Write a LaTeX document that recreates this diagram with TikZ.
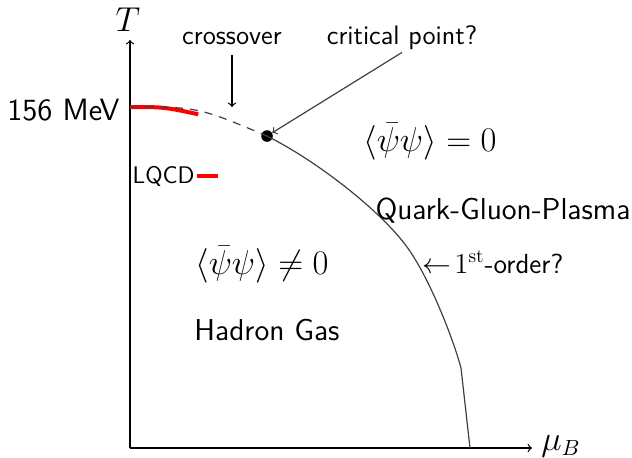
\documentclass[tikz,border=0pt]{standalone}
\usepackage{fontspec}
\begin{document}
\begin{tikzpicture}[x=0.5pt,y=-0.5pt,
  lbl/.style={font=\sffamily\fontsize{15.1}{18}\selectfont, inner sep=1pt},
  ann/.style={font=\sffamily\fontsize{13.4}{16}\selectfont, inner sep=1pt},
  mth/.style={font=\fontsize{16.2}{19}\selectfont, inner sep=1pt},
  axis/.style={->, line width=0.6pt, black},
  phase/.style={line width=0.6pt, black!75},
  lqcdline/.style={red, line width=2pt}]
\useasboundingbox (0,0) rectangle (632,457);
% axes
\coordinate (O) at (130,448);
\coordinate (Ttip) at (130,40);
\coordinate (Mtip) at (532,448);
\draw[axis] (O) -- (Ttip);
\draw[axis] (O) -- (Mtip);
\node[mth] (T) at (128,20) {$T$};
\node[mth] (muB) at (561,446) {$\mu_B$};
% 156 MeV
\node[lbl, font=\sffamily\fontsize{15.4}{18}\selectfont, anchor=east] (mev) at (122,110) {156 MeV};
% crossover red band
\coordinate (c0) at (130,107);
\draw[lqcdline] (c0) .. controls (164,107) .. (198.25,114.25);
% critical point
\node[circle, fill=black, inner sep=0pt, minimum size=5.8pt] (cp) at (267,136) {};
\draw[phase, dash pattern=on 4pt off 3.5pt] (c0) .. controls (198,107) .. (cp.center);
% first order line
\coordinate (mid) at (407,247);
\coordinate (knee) at (461,368);
\coordinate (end) at (470,448);
\draw[phase] (cp.center) .. controls (317,161) and (381,211) .. (mid)
  .. controls (429,277) and (453,338) .. (knee) -- (end);
% labels
\node[ann] (xo) at (232,38) {crossover};
\coordinate (xoend) at (232,107);
\draw[->, line width=0.6pt] (232,55) -- (xoend);
\node[ann] (crit) at (402,38) {critical point?};
\draw[->, phase] (crit.south) -- (cp);
% LQCD
\node[ann, anchor=east, font=\sffamily\fontsize{12}{14}\selectfont] (lqcd) at (197,176) {LQCD};
\coordinate (lqcdend) at (218,176);
\draw[lqcdline] (lqcd.east) -- (lqcdend);
% phases
\node[mth] (qgpc) at (430,142) {$\langle\bar\psi\psi\rangle = 0$};
\node[lbl] (qgp) at (503,211) {Quark-Gluon-Plasma};
\node[mth] (hgc) at (262,265) {$\langle\bar\psi\psi\rangle \neq 0$};
\node[lbl] (hg) at (267,330) {Hadron Gas};
\node[anchor=west, inner sep=0pt, font=\fontsize{13.8}{16}\selectfont] (fo) at (422,262) {$\leftarrow\!1^{\mathrm{st}}$\textsf{-order?}};
\end{tikzpicture}
\end{document}
